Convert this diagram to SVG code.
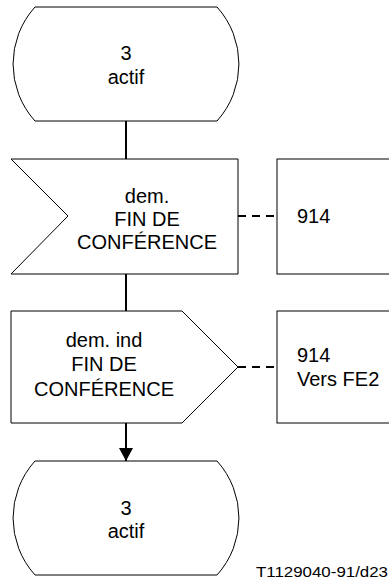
<svg xmlns="http://www.w3.org/2000/svg" width="389" height="582" viewBox="0 0 389 582">
<style>
.shape{fill:#fff;stroke:#000;stroke-width:1}
.t{font-family:"Liberation Sans",Arial,sans-serif;font-size:20px;fill:#000}
.c{text-anchor:middle}
.conn{stroke:#000;stroke-width:2;fill:none}
.dash{stroke:#000;stroke-width:2;fill:none;stroke-dasharray:8 6}
</style>
<defs>
<marker id="arr" markerWidth="14" markerHeight="14" refX="13" refY="7" orient="auto" markerUnits="userSpaceOnUse">
<path d="M0,0 L13,7 L0,14 Z" fill="#000"/>
</marker>
</defs>
<g id="connectors">
<line class="conn" x1="126" y1="121" x2="126" y2="159"/>
<line class="conn" x1="126" y1="274" x2="126" y2="311"/>
<line class="conn" x1="126" y1="423" x2="126" y2="461" marker-end="url(#arr)"/>
<line class="dash" x1="238" y1="216" x2="277" y2="216"/>
<line class="dash" x1="238" y1="367" x2="277" y2="367"/>
</g>
<g id="state1">
<path class="shape" d="M35,7 L217,7 A85,85 0 0 1 217,121 L35,121 A85,85 0 0 1 35,7 Z"/>
<text class="t c" x="126" y="60">3</text>
<text class="t c" x="126" y="84">actif</text>
</g>
<g id="input">
<path class="shape" d="M11,159 L238,159 L238,274 L11,274 L68,216 Z"/>
<text class="t c" x="147" y="203">dem.</text>
<text class="t c" x="147" y="226">FIN DE</text>
<text class="t c" x="147" y="249">CONFÉRENCE</text>
</g>
<g id="comment1">
<rect class="shape" x="277" y="159" width="130" height="115"/>
<text class="t" x="297" y="223">914</text>
</g>
<g id="output">
<path class="shape" d="M11,311 L182,311 L238,367 L182,423 L11,423 Z"/>
<text class="t c" x="104" y="347">dem. ind</text>
<text class="t c" x="104" y="371">FIN DE</text>
<text class="t c" x="104" y="396">CONFÉRENCE</text>
</g>
<g id="comment2">
<rect class="shape" x="277" y="311" width="130" height="112"/>
<text class="t" x="297" y="362">914</text>
<text class="t" x="297" y="386">Vers FE2</text>
</g>
<g id="state2">
<path class="shape" d="M35,461 L217,461 A85,85 0 0 1 217,575 L35,575 A85,85 0 0 1 35,461 Z"/>
<text class="t c" x="126" y="515">3</text>
<text class="t c" x="126" y="538">actif</text>
</g>
<text class="t" x="256" y="577" style="font-size:14px" textLength="132" lengthAdjust="spacingAndGlyphs">T1129040-91/d23</text>
</svg>
